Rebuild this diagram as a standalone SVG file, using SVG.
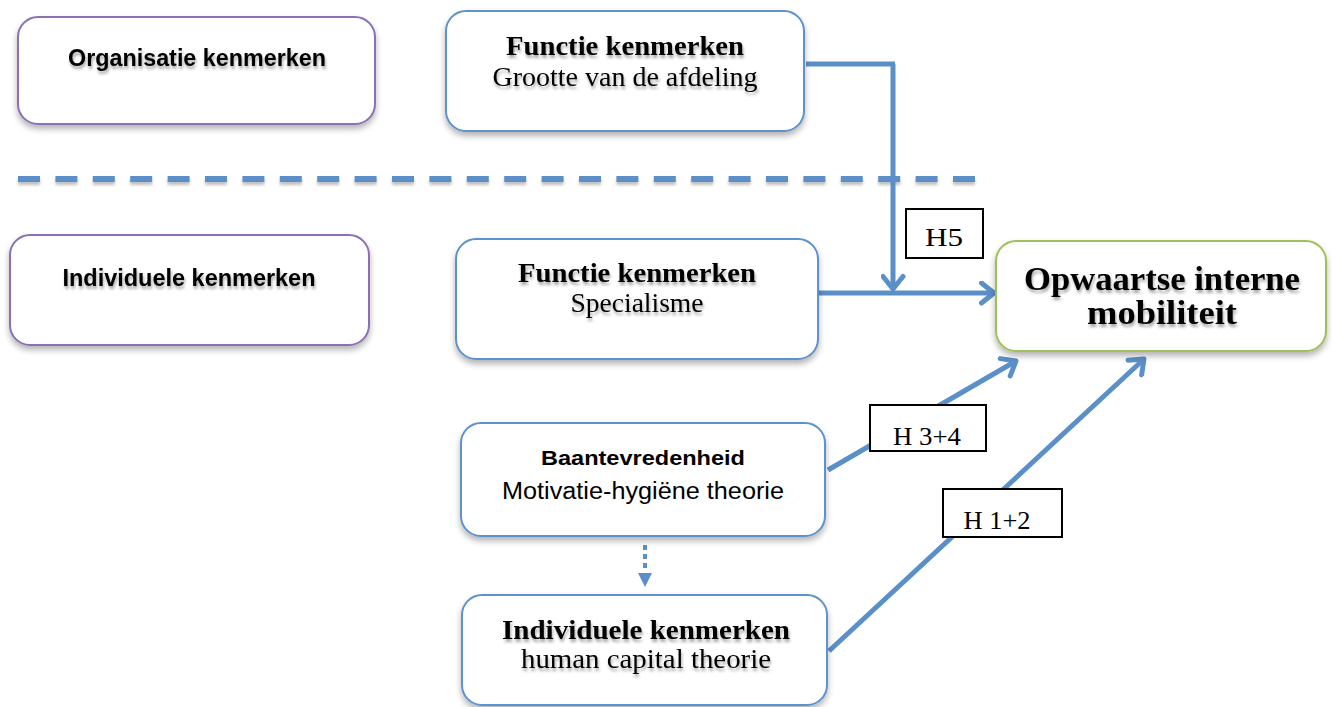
<svg xmlns="http://www.w3.org/2000/svg" width="1332" height="707" viewBox="0 0 1332 707">
<defs>
<filter id="sh" x="-10%" y="-10%" width="130%" height="140%">
<feGaussianBlur in="SourceAlpha" stdDeviation="3"/>
<feOffset dx="0" dy="4" result="b"/>
<feComponentTransfer><feFuncA type="linear" slope="0.3"/></feComponentTransfer>
<feMerge><feMergeNode/><feMergeNode in="SourceGraphic"/></feMerge>
</filter>
<filter id="lsh" filterUnits="userSpaceOnUse" x="0" y="160" width="1000" height="40">
<feGaussianBlur in="SourceAlpha" stdDeviation="1.5"/>
<feOffset dx="0" dy="3" result="b"/>
<feComponentTransfer><feFuncA type="linear" slope="0.25"/></feComponentTransfer>
<feMerge><feMergeNode/><feMergeNode in="SourceGraphic"/></feMerge>
</filter>
<filter id="tsh" x="-10%" y="-30%" width="130%" height="180%">
<feGaussianBlur in="SourceAlpha" stdDeviation="1.5"/>
<feOffset dx="1" dy="3" result="b"/>
<feComponentTransfer><feFuncA type="linear" slope="0.35"/></feComponentTransfer>
<feMerge><feMergeNode/><feMergeNode in="SourceGraphic"/></feMerge>
</filter>
<marker id="ah" viewBox="0 0 20 20" refX="16" refY="10" markerWidth="5" markerHeight="5" markerUnits="strokeWidth" orient="auto">
<polyline points="6,2 16,10 6,18" fill="none" stroke="#5b8fc8" stroke-width="4" stroke-linecap="round" stroke-linejoin="round"/>
</marker>
</defs>
<style>
.box{fill:#fff;stroke-width:2;filter:url(#sh)}
.pu{stroke:#8c6fb3}
.bl{stroke:#5e92cc}
.gr{stroke:#9dc05a}
.hb{fill:#fff;stroke:#000;stroke-width:2}
.sb{font-family:"Liberation Sans",Arial,sans-serif;font-weight:bold;fill:#000}
.sr{font-family:"Liberation Sans",Arial,sans-serif;fill:#000}
.fb{font-family:"Liberation Serif","Times New Roman",serif;font-weight:bold;fill:#000}
.fr{font-family:"Liberation Serif","Times New Roman",serif;fill:#000}
.t{filter:url(#tsh)}
.c{fill:none;stroke:#5b8fc8;stroke-width:5}
</style>

<line x1="18" y1="179" x2="975" y2="179" stroke="#5b8fc8" stroke-width="6" stroke-dasharray="22 15.4" filter="url(#lsh)"/>

<g id="connectors">
<polyline class="c" points="806,64 895,64"/>
<line class="c" x1="893" y1="64" x2="893" y2="289" marker-end="url(#ah)"/>
<line class="c" x1="819" y1="293" x2="994" y2="293" marker-end="url(#ah)"/>
<line class="c" x1="828" y1="470" x2="1016" y2="361" marker-end="url(#ah)"/>
<line class="c" x1="829" y1="651" x2="1144" y2="359" marker-end="url(#ah)"/>
<line x1="645" y1="545" x2="645" y2="571" stroke="#5b8fc8" stroke-width="4" stroke-dasharray="5 4"/>
<polygon points="638,573 652,573 645,587" fill="#5b8fc8"/>
</g>

<g id="node-org">
<rect class="box pu" x="18" y="17" width="357" height="107" rx="20"/>
<text class="sb t" x="197" y="66" font-size="23" text-anchor="middle" textLength="258" lengthAdjust="spacingAndGlyphs">Organisatie kenmerken</text>
</g>

<g id="node-functie-top">
<rect class="box bl" x="446" y="11" width="358" height="120" rx="20"/>
<text class="fb t" x="625" y="55" font-size="27" text-anchor="middle" textLength="238" lengthAdjust="spacingAndGlyphs">Functie kenmerken</text>
<text class="fr t" x="625" y="86" font-size="27" text-anchor="middle" textLength="265" lengthAdjust="spacingAndGlyphs">Grootte van de afdeling</text>
</g>

<g id="node-indiv-left">
<rect class="box pu" x="10" y="235" width="359" height="110" rx="20"/>
<text class="sb t" x="189" y="286" font-size="23" text-anchor="middle" textLength="253" lengthAdjust="spacingAndGlyphs">Individuele kenmerken</text>
</g>

<g id="node-functie-mid">
<rect class="box bl" x="456" y="239" width="362" height="120" rx="20"/>
<text class="fb t" x="637" y="282" font-size="27" text-anchor="middle" textLength="238" lengthAdjust="spacingAndGlyphs">Functie kenmerken</text>
<text class="fr t" x="637" y="312" font-size="27" text-anchor="middle" textLength="133" lengthAdjust="spacingAndGlyphs">Specialisme</text>
</g>

<g id="node-opwaartse">
<rect class="box gr" x="996" y="241" width="330" height="110" rx="20"/>
<text class="fb t" x="1162" y="290" font-size="34" text-anchor="middle" textLength="276" lengthAdjust="spacingAndGlyphs">Opwaartse interne</text>
<text class="fb t" x="1162" y="324" font-size="34" text-anchor="middle" textLength="150" lengthAdjust="spacingAndGlyphs">mobiliteit</text>
</g>

<g id="node-baan">
<rect class="box bl" x="461" y="423" width="364" height="113" rx="20"/>
<text class="sb" x="643" y="465" font-size="21" text-anchor="middle" textLength="204" lengthAdjust="spacingAndGlyphs">Baantevredenheid</text>
<text class="sr" x="643" y="499" font-size="23" text-anchor="middle" textLength="282" lengthAdjust="spacingAndGlyphs">Motivatie-hygiëne theorie</text>
</g>

<g id="node-indiv-bottom">
<rect class="box bl" x="462" y="595" width="365" height="110" rx="20"/>
<text class="fb t" x="646" y="639" font-size="27" text-anchor="middle" textLength="288" lengthAdjust="spacingAndGlyphs">Individuele kenmerken</text>
<text class="fr t" x="646" y="668" font-size="27" text-anchor="middle" textLength="250" lengthAdjust="spacingAndGlyphs">human capital theorie</text>
</g>

<g id="label-h5">
<rect class="hb" x="906" y="209" width="77" height="49"/>
<text class="fr" x="944" y="246" font-size="25" text-anchor="middle" textLength="38" lengthAdjust="spacingAndGlyphs">H5</text>
</g>
<g id="label-h34">
<rect class="hb" x="870" y="405" width="116" height="46"/>
<text class="fr" x="927" y="445" font-size="25" text-anchor="middle" textLength="68" lengthAdjust="spacingAndGlyphs">H 3+4</text>
</g>
<g id="label-h12">
<rect class="hb" x="943" y="489" width="119" height="48"/>
<text class="fr" x="997" y="529" font-size="25" text-anchor="middle" textLength="67" lengthAdjust="spacingAndGlyphs">H 1+2</text>
</g>
</svg>
